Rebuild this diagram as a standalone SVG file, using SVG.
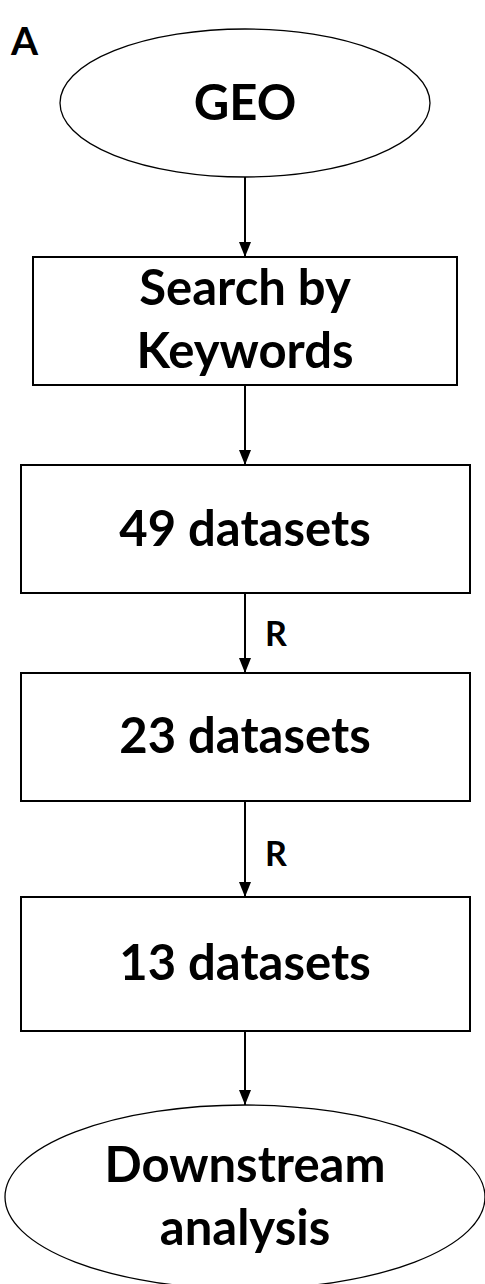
<svg xmlns="http://www.w3.org/2000/svg" width="485" height="1284" viewBox="0 0 485 1284">
<style>
.shape{fill:#fff;stroke:#000;stroke-width:2}
.oval{fill:#fff;stroke:#000;stroke-width:1.3}
.lbl{font-family:Lato,"Open Sans",sans-serif;font-weight:bold;font-size:49px;text-anchor:middle;fill:#000}
.edge{stroke:#000;stroke-width:2;fill:none}
.r{font-family:Lato,"Open Sans",sans-serif;font-weight:bold;font-size:34px;fill:#000}
</style>
<defs>
<marker id="ah" viewBox="0 0 15 12" refX="15" refY="6" markerWidth="15" markerHeight="12" markerUnits="userSpaceOnUse" orient="auto">
<path d="M0,0 L15,6 L0,12 Z" fill="#000"/>
</marker>
</defs>
<rect width="485" height="1284" fill="#fff"/>
<text x="11" y="55" font-family="Lato,sans-serif" font-weight="bold" font-size="39">A</text>
<g id="connectors">
<line class="edge" x1="245" y1="177" x2="245" y2="257" marker-end="url(#ah)"/>
<line class="edge" x1="245" y1="385" x2="245" y2="465" marker-end="url(#ah)"/>
<line class="edge" x1="245" y1="593" x2="245" y2="673" marker-end="url(#ah)"/>
<line class="edge" x1="245" y1="801" x2="245" y2="897" marker-end="url(#ah)"/>
<line class="edge" x1="245" y1="1031" x2="245" y2="1105" marker-end="url(#ah)"/>
<text class="r" x="265" y="646">R</text>
<text class="r" x="265" y="866">R</text>
</g>
<g id="geo">
<ellipse class="oval" cx="245" cy="103" rx="185" ry="74"/>
<text class="lbl" x="245" y="120">GEO</text>
</g>
<g id="search">
<rect class="shape" x="33" y="257" width="424" height="128"/>
<text class="lbl" x="245" y="305">Search by</text>
<text class="lbl" x="245" y="368">Keywords</text>
</g>
<g id="d49">
<rect class="shape" x="21" y="465" width="449" height="128"/>
<text class="lbl" x="245" y="546">49 datasets</text>
</g>
<g id="d23">
<rect class="shape" x="21" y="673" width="449" height="128"/>
<text class="lbl" x="245" y="753">23 datasets</text>
</g>
<g id="d13">
<rect class="shape" x="21" y="897" width="449" height="134"/>
<text class="lbl" x="245" y="980">13 datasets</text>
</g>
<g id="downstream">
<ellipse class="oval" cx="245" cy="1197" rx="240" ry="92"/>
<text class="lbl" x="245" y="1182">Downstream</text>
<text class="lbl" x="245" y="1245">analysis</text>
</g>
</svg>
